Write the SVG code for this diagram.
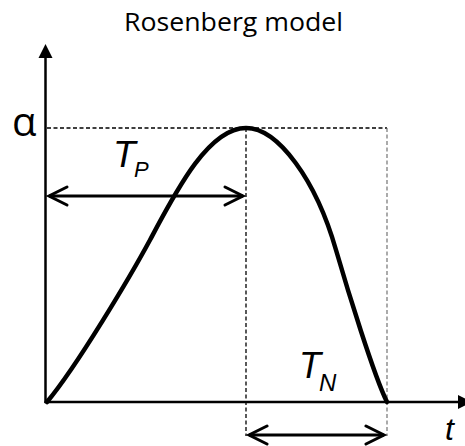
<svg xmlns="http://www.w3.org/2000/svg" width="465" height="446" viewBox="0 0 465 446">
<defs>
<style>
.dash{fill:none;stroke:#000;stroke-width:1.3;stroke-dasharray:4 2.5}
.dash2{fill:none;stroke:#666;stroke-width:1.1;stroke-dasharray:4 2.5}
.axis{fill:none;stroke:#000;stroke-width:2.5}
.dim{fill:none;stroke:#000;stroke-width:3}
.head{fill:none;stroke:#000;stroke-width:3;stroke-linecap:round;stroke-linejoin:miter}
.curve{fill:none;stroke:#000;stroke-width:4.5;stroke-linecap:round;stroke-linejoin:round}
.lbl{font-family:"Liberation Sans",Arial,sans-serif;font-style:italic;fill:#000}
</style>
</defs>
<text x="233.5" y="31" text-anchor="middle" font-family="'Open Sans','Noto Sans',sans-serif" font-size="26" textLength="219" lengthAdjust="spacingAndGlyphs" fill="#000">Rosenberg model</text>
<g id="guides">
<path class="dash" d="M47 128H387"/>
<path class="dash" d="M246 128V436"/>
<path class="dash2" d="M387 128V436"/>
</g>
<g id="axes">
<path class="axis" d="M45.5 403V56"/>
<polygon points="45.5,44 38.5,58 52.5,58" fill="#000"/>
<path class="axis" d="M44.5 402H460"/>
<polygon points="472,402 458,395 458,409" fill="#000"/>
<text x="12" y="136" font-family="'Open Sans','Noto Sans',sans-serif" font-size="40" fill="#000">α</text>
<text class="lbl" x="445" y="440" font-size="32">t</text>
</g>
<g id="curve">
<path class="curve" d="M47 402C77 366 130 277 150 240C175 193 208 128 246 128C278 128 316 180 336 250C347 288 374 376 387 402"/>
</g>
<g id="connectors">
<g id="tp-arrow">
<path class="dim" d="M49 196H243"/>
<path class="head" d="M67 187L49 196L67 205"/>
<path class="head" d="M225 187L243 196L225 205"/>
</g>
<g id="tn-arrow">
<path class="dim" d="M249 435H384"/>
<path class="head" d="M267 426L249 435L267 444"/>
<path class="head" d="M366 426L384 435L366 444"/>
</g>
</g>
<g id="tp-label">
<text class="lbl" x="113" y="167" font-size="37">T</text>
<text class="lbl" x="134" y="177" font-size="22">P</text>
</g>
<g id="tn-label">
<text class="lbl" x="299" y="378" font-size="36">T</text>
<text class="lbl" x="319" y="391" font-size="24">N</text>
</g>
</svg>
